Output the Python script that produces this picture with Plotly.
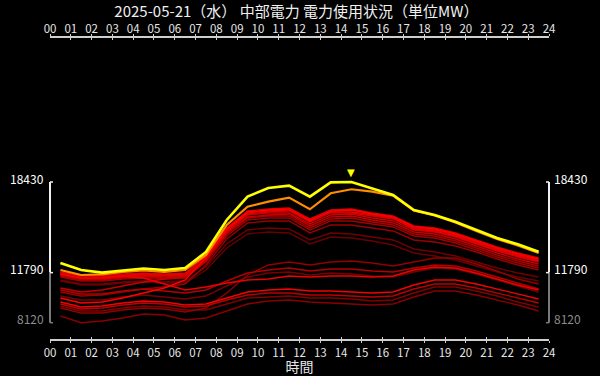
import plotly.graph_objects as go

# ---------------- data ----------------
hours = [0.5, 1.5, 2.5, 3.5, 4.5, 5.5, 6.5, 7.5, 8.5, 9.5, 10.5, 11.5,
         12.5, 13.5, 14.5, 15.5, 16.5, 17.5, 18.5, 19.5, 20.5, 21.5, 22.5, 23.5]
hour_ticks = list(range(25))
hour_labels = ["00", "01", "02", "03", "04", "05", "06", "07", "08", "09", "10", "11", "12",
               "13", "14", "15", "16", "17", "18", "19", "20", "21", "22", "23", "24"]

title_text = "2025-05-21（水） 中部電力 電力使用状況（単位MW）"

today_0521 = [12496, 11983, 11790, 11950, 12093, 11983, 12130, 13302, 15648, 17356, 17994, 18162,
              17356, 18400, 18430, 17957, 17480, 16381, 16014, 15523, 14915, 14329, 13867, 13324]
yday_0520 = [11983, 11616, 11668, 11836, 11946, 11836, 11983, 13082, 15281, 16623, 16989, 17283,
             16432, 17605, 17898, 17722, 17429, 16345, 15978, 15460, 14840, 14255, 13780, 13230]

d0501 = [11177, 10883, 10883, 11030, 11103, 11030, 11030, 11983, 13596, 14622, 14768, 14695,
         13889, 14402, 14329, 14109, 13815, 13229, 13009, 12716, 12276, 11836, 11470, 11177]
d0502 = [11250, 10957, 10957, 11103, 11177, 11103, 11177, 12203, 13889, 14915, 15062, 14988,
         14182, 14695, 14622, 14402, 14182, 13522, 13302, 13009, 12569, 12130, 11763, 11470]
d0503 = [10077, 9784, 9784, 10004, 10150, 10004, 9857, 10077, 10810, 11470, 11763, 11836,
         11616, 11763, 11690, 11543, 11470, 11836, 12130, 12056, 11690, 11250, 10810, 10370]
d0504 = [9344, 8978, 8978, 9198, 9344, 9271, 9051, 9051, 9491, 9930, 10004, 10077,
         9930, 9930, 9857, 9711, 9784, 10297, 10737, 10737, 10444, 10077, 9637, 9271]
d0505 = [8611, 8120, 8245, 8464, 8758, 8684, 8318, 8464, 8978, 9491, 9711, 9784,
         9637, 9564, 9491, 9417, 9491, 10004, 10444, 10444, 10150, 9784, 9417, 8978]
d0506 = [9198, 8831, 8831, 9051, 9198, 9124, 8904, 9198, 10297, 11616, 12349, 12569,
         12349, 12569, 12643, 12496, 12276, 12569, 12863, 12863, 12423, 11910, 11323, 10957]
d0507 = [10370, 10077, 10150, 10370, 10590, 10737, 10957, 12349, 14255, 15428, 15575, 15575,
         14695, 15281, 15281, 15062, 14842, 14182, 14035, 13742, 13302, 12789, 12349, 11983]
d0508 = [11470, 11177, 11177, 11323, 11397, 11323, 11397, 12569, 14475, 15648, 15795, 15795,
         14915, 15575, 15575, 15355, 15135, 14475, 14329, 13962, 13449, 12936, 12496, 12130]
d0509 = [11543, 11250, 11250, 11397, 11470, 11397, 11470, 12643, 14622, 15795, 15941, 15941,
         15062, 15721, 15795, 15501, 15281, 14622, 14475, 14109, 13596, 13082, 12643, 12276]
d0510 = [10517, 10224, 10224, 10444, 10590, 10444, 10297, 10517, 11177, 11763, 11983, 12130,
         11910, 12056, 12056, 11910, 11836, 12130, 12349, 12276, 11910, 11470, 11030, 10590]
d0511 = [9491, 9124, 9198, 9417, 9564, 9491, 9271, 9344, 9784, 10150, 10297, 10297,
         10150, 10150, 10077, 10004, 10077, 10590, 10957, 10957, 10664, 10297, 9930, 9564]
d0512 = [10664, 10370, 10517, 10810, 11103, 11323, 11470, 12716, 14695, 15868, 16014, 16088,
         15208, 15868, 15941, 15648, 15428, 14768, 14622, 14255, 13742, 13229, 12789, 12423]
d0513 = [11616, 11323, 11323, 11470, 11543, 11470, 11543, 12789, 14768, 16014, 16161, 16161,
         15355, 16014, 16088, 15795, 15575, 14915, 14768, 14402, 13889, 13376, 12936, 12569]
d0514 = [11690, 11397, 11397, 11543, 11616, 11543, 11616, 12863, 14842, 16088, 16234, 16308,
         15501, 16161, 16161, 15941, 15721, 15062, 14915, 14548, 14035, 13522, 13082, 12716]
d0515 = [11836, 11543, 11543, 11690, 11763, 11690, 11763, 13009, 15062, 16308, 16454, 16528,
         15721, 16381, 16454, 16161, 15941, 15208, 15062, 14695, 14182, 13669, 13229, 12863]
d0516 = [11763, 11470, 11470, 11616, 11690, 11616, 11690, 12936, 14915, 16161, 16308, 16381,
         15648, 16234, 16234, 16014, 15795, 14988, 14842, 14475, 13962, 13449, 13009, 12643]
d0517 = [11690, 11397, 11397, 11543, 11397, 10957, 10517, 10737, 11030, 11250, 11323, 11543,
         11470, 11543, 11543, 11470, 11543, 11983, 12203, 12130, 11763, 11323, 10883, 10517]
d0518 = [9637, 9271, 9344, 9564, 9711, 9637, 9417, 9491, 9930, 10370, 10517, 10590,
         10444, 10444, 10370, 10297, 10370, 10883, 11250, 11250, 10957, 10590, 10224, 9857]
d0519 = [9930, 9564, 9637, 9930, 10297, 10664, 11250, 12863, 14988, 16234, 16381, 16454,
         15575, 16308, 16381, 16088, 15868, 15135, 14988, 14622, 14109, 13596, 13156, 12789]

past_days = [d0501, d0502, d0503, d0504, d0505, d0506, d0507, d0508, d0509, d0510,
             d0511, d0512, d0513, d0514, d0515, d0516, d0517, d0518, d0519]

# ---------------- figure ----------------
FONT = "Noto Sans CJK JP"
fig = go.Figure()

n = len(past_days)
for i, series in enumerate(past_days):
    r = int(105 + 150 * i / (n - 1))
    fig.add_trace(go.Scatter(x=hours, y=series, mode="lines",
                             line=dict(color=f"rgb({r},0,0)", width=1.4),
                             hoverinfo="skip", showlegend=False))

fig.add_trace(go.Scatter(x=hours, y=yday_0520, mode="lines",
                         line=dict(color="#ff8c00", width=2.2),
                         hoverinfo="skip", showlegend=False))
fig.add_trace(go.Scatter(x=hours, y=today_0521, mode="lines",
                         line=dict(color="#ffff00", width=2.6),
                         hoverinfo="skip", showlegend=False))
# invisible companions so the extra (mirrored / tick) axes render
for xa in ["x2", "x3", "x4"]:
    fig.add_trace(go.Scatter(x=hours, y=today_0521, mode="lines", xaxis=xa, yaxis="y",
                             line=dict(color="rgba(0,0,0,0)", width=0),
                             hoverinfo="skip", showlegend=False))

all_vals = [v for s in past_days + [yday_0520, today_0521] for v in s]
y_min_all = min(all_vals)
y_min_today = min(today_0521)
y_max_today = max(today_0521)
peak_hour = hours[today_0521.index(y_max_today)]

# pixel geometry -> axis range so that the bracket sits in the chart as in reference
plot_top_px, plot_bot_px = 38, 339
px_max, px_min = 182.0, 322.7
mw_per_px = (y_max_today - y_min_all) / (px_min - px_max)
y_lo = y_min_all - (plot_bot_px - px_min) * mw_per_px
y_hi = y_max_today + (px_max - plot_top_px) * mw_per_px

LINE_C = "#cfcfcf"
axis_common_x = dict(range=[0, 24], tickmode="array", tickvals=hour_ticks, ticktext=hour_labels,
                     showgrid=False, zeroline=False, showline=True, linecolor=LINE_C, linewidth=1.5,
                     ticks="outside", ticklen=2, tickcolor=LINE_C, tickwidth=1, automargin=False,
                     tickfont=dict(family=FONT, size=11.5, color="#e6e6e6"))
tick_only_x = dict(range=[0, 24], tickmode="array", tickvals=hour_ticks, showticklabels=False,
                   showgrid=False, zeroline=False, showline=False, overlaying="x", anchor="y",
                   ticks="inside", ticklen=2, tickcolor=LINE_C, tickwidth=1, automargin=False)

fig.update_layout(
    width=600, height=376,
    margin=dict(l=50, r=51, t=plot_top_px, b=376 - plot_bot_px, autoexpand=False),
    paper_bgcolor="#000000", plot_bgcolor="#000000",
    font=dict(family=FONT, color="#ffffff"),
    title=dict(text=title_text, x=0.494, xref="container", y=1 - 12 / 376, yref="container",
               xanchor="center", yanchor="middle", automargin=False,
               font=dict(family=FONT, size=15, color="#f0f0f0")),
    xaxis=dict(**axis_common_x, side="bottom", anchor="y",
               title=dict(text="時間", font=dict(family=FONT, size=14, color="#e8e8e8"), standoff=2)),
    xaxis2=dict(**axis_common_x, side="top", overlaying="x", anchor="y", ticklabelstandoff=-3),
    xaxis3=dict(**tick_only_x, side="bottom"),
    xaxis4=dict(**tick_only_x, side="top"),
    yaxis=dict(range=[y_lo, y_hi], showticklabels=False, showgrid=False, zeroline=False,
               showline=False, ticks="", automargin=False),
    showlegend=False,
)

# bracket-style y axes (white for today's range, gray down to overall min)
WHITE, GRAY = "#f0f0f0", "#7a7a7a"
tick_frac = 3 / 499
shapes = []
for xs, sign in [(0, 1), (1, -1)]:
    shapes.append(dict(type="line", xref="paper", yref="y", x0=xs, x1=xs, y0=y_min_today, y1=y_max_today,
                       line=dict(color=WHITE, width=2)))
    shapes.append(dict(type="line", xref="paper", yref="y", x0=xs, x1=xs, y0=y_min_all, y1=y_min_today,
                       line=dict(color=GRAY, width=2)))
    for yv, col in [(y_max_today, WHITE), (y_min_today, WHITE), (y_min_all, GRAY)]:
        shapes.append(dict(type="line", xref="paper", yref="y", x0=xs, x1=xs + sign * tick_frac,
                           y0=yv, y1=yv, line=dict(color=col, width=1.5)))
fig.update_layout(shapes=shapes)

# y labels (raised slightly above their bracket ticks, as in the reference)
for yv, col in [(y_max_today, "#ffffff"), (y_min_today, "#ffffff"), (y_min_all, "#8c8c8c")]:
    fig.add_annotation(x=0, xref="paper", y=yv, yref="y", text=str(yv), showarrow=False,
                       xanchor="right", yanchor="middle", xshift=-4, yshift=4,
                       font=dict(family=FONT, size=12, color=col))
    fig.add_annotation(x=1, xref="paper", y=yv, yref="y", text=str(yv), showarrow=False,
                       xanchor="left", yanchor="middle", xshift=3, yshift=4,
                       font=dict(family=FONT, size=12, color=col))

fig.add_annotation(x=peak_hour, y=y_max_today, text="▼", showarrow=False, yshift=10,
                   font=dict(family="DejaVu Sans", size=10, color="#ffff00"))

fig.write_html("out.html", config={"displayModeBar": False},
               post_script="document.body.style.margin='0px';document.body.style.background='#000';")
